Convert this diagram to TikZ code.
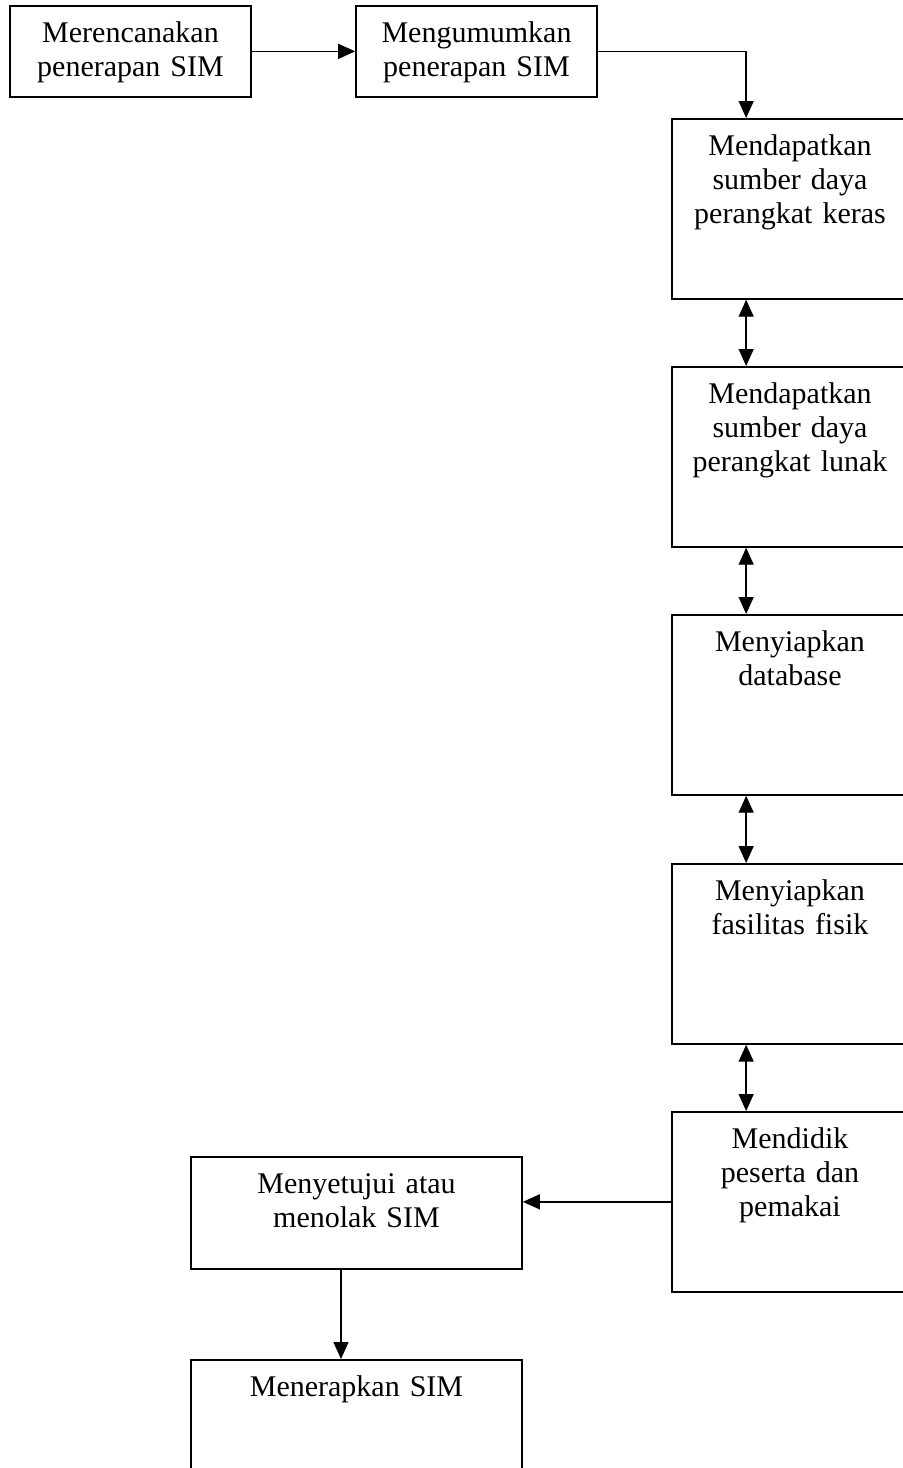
\documentclass[tikz,border=0pt]{standalone}
\usepackage{fontspec}
\setmainfont{Liberation Serif}
\usetikzlibrary{arrows.meta}
\begin{document}
\begin{tikzpicture}[x=0.5pt,y=-0.5pt,
  stepbox/.style={draw,line width=0.85pt,inner sep=0pt,anchor=north,align=center,
    font=\fontsize{15}{17}\selectfont,text height=18.5pt},
  flow/.style={line width=0.7pt,-{Triangle[length=8.5pt,width=7.5pt]}},
  twoway/.style={line width=0.7pt,{Triangle[length=8.5pt,width=7.5pt]}-{Triangle[length=8.5pt,width=7.5pt]}}]
\useasboundingbox (0,0) rectangle (902,1468);

\node[stepbox,text width=120.5pt,text depth=27pt] (rencana) at (130.5,5) {Merencanakan\\penerapan SIM};
\node[stepbox,text width=120.5pt,text depth=27pt] (umum) at (476.5,5) {Mengumumkan\\penerapan SIM};
\node[stepbox,text width=118pt,text depth=71.5pt] (keras) at (790,118) {Mendapatkan\\sumber daya\\perangkat keras};
\node[stepbox,text width=118pt,text depth=71.5pt] (lunak) at (790,366) {Mendapatkan\\sumber daya\\perangkat lunak};
\node[stepbox,text width=118pt,text depth=71.5pt] (basis) at (790,614) {Menyiapkan\\database};
\node[stepbox,text width=118pt,text depth=71.5pt] (fisik) at (790,863) {Menyiapkan\\fasilitas fisik};
\node[stepbox,text width=118pt,text depth=71.5pt] (didik) at (790,1111) {Mendidik\\peserta dan\\pemakai};
\node[stepbox,text width=165.5pt,text depth=37.5pt] (setuju) at (356.5,1156) {Menyetujui atau\\menolak SIM};
\node[stepbox,text width=165.5pt,text depth=40pt] (terap) at (356.5,1359) {Menerapkan SIM};

\draw[flow] (rencana.east) -- (umum.west);
\draw[flow] (umum.east) -| ([xshift=37.5pt]keras.north west);
\draw[twoway] ([xshift=37.5pt]keras.south west) -- ([xshift=37.5pt]lunak.north west);
\draw[twoway] ([xshift=37.5pt]lunak.south west) -- ([xshift=37.5pt]basis.north west);
\draw[twoway] ([xshift=37.5pt]basis.south west) -- ([xshift=37.5pt]fisik.north west);
\draw[twoway] ([xshift=37.5pt]fisik.south west) -- ([xshift=37.5pt]didik.north west);
\draw[flow] (didik.west) -- (didik.west -| setuju.east);
\draw[flow] ([xshift=-7.75pt]setuju.south) -- ([xshift=-7.75pt]terap.north);
\end{tikzpicture}
\end{document}
